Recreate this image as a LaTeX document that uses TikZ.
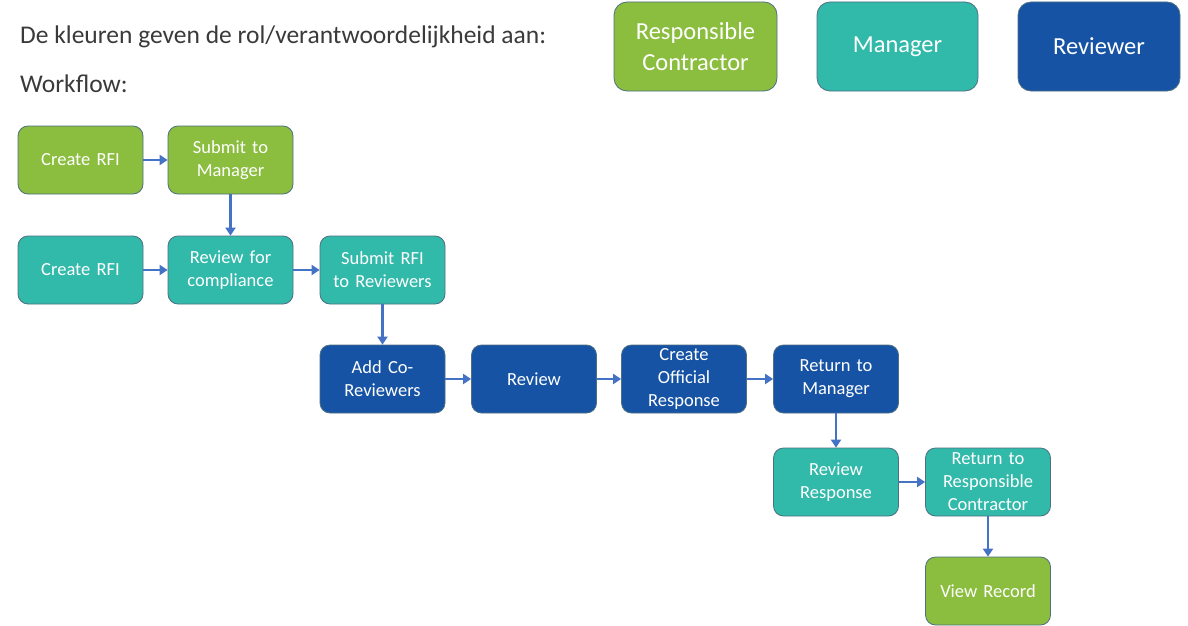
\documentclass[tikz,border=0pt]{standalone}
\usepackage{fontspec}
\setmainfont{Carlito}
\usetikzlibrary{arrows.meta}
\definecolor{rcgreen}{HTML}{8BBD3F}
\definecolor{mgteal}{HTML}{31B9AA}
\definecolor{rvblue}{HTML}{1753A4}
\definecolor{edgecol}{HTML}{4E7080}
\definecolor{arrowcol}{HTML}{4472C4}
\definecolor{txtgray}{HTML}{3A3A3A}
\tikzset{
  box/.style={rounded corners=10pt, draw=edgecol, line width=0.8pt,
    minimum width=125pt, minimum height=68pt, text width=120pt, align=center,
    inner sep=0pt, text=white, font=\fontsize{18.5}{23}\selectfont},
  legend/.style={rounded corners=13pt, draw=edgecol, line width=0.8pt,
    minimum height=89pt, text width=150pt, align=center,
    inner sep=0pt, text=white, font=\fontsize{24.5}{31}\selectfont},
  rc/.style={box, fill=rcgreen},
  mg/.style={box, fill=mgteal},
  rv/.style={box, fill=rvblue},
  flow/.style={draw=arrowcol, line width=2.2pt, -{Triangle[length=8pt,width=10pt]}},
  plain/.style={text=txtgray, anchor=west, inner sep=0pt, font=\fontsize{25.5}{30}\selectfont}
}
\begin{document}
\begin{tikzpicture}[x=1pt,y=-1pt]
\useasboundingbox[fill=white] (0,0) rectangle (1188,626);
% header
\node[plain] (hdr) at (20,37) {De kleuren geven de rol/verantwoordelijkheid aan:};
\node[plain] (wf) at (20,84) {Workflow:};
% legend
\node[legend, fill=rcgreen, minimum width=163pt] (lg1) at (695.5,46.5) {Responsible\\Contractor};
\node[legend, fill=mgteal, minimum width=161pt] (lg2) at (897.5,46.5) {Manager};
\node[legend, fill=rvblue, minimum width=162pt] (lg3) at (1099,46.5) {Reviewer};
% row 1
\node[rc] (a1) at (80.5,160) {Create RFI};
\node[rc] (a2) at (230.5,160) {Submit to\\Manager};
% row 2
\node[mg] (b1) at (80.5,270) {Create RFI};
\node[mg] (b2) at (230.5,270) {Review for\\compliance};
\node[mg] (b3) at (382.5,270) {Submit RFI\\to Reviewers};
% row 3
\node[rv] (c1) at (382.5,379) {Add Co-\\Reviewers};
\node[rv] (c2) at (534,379) {Review};
\node[rv] (c3) at (684,379) {Create\\Official\\Response};
\node[rv] (c4) at (836,379) {Return to\\Manager};
% row 4
\node[mg] (d1) at (836,482) {Review\\Response};
\node[mg] (d2) at (988,482) {Return to\\Responsible\\Contractor};
% row 5
\node[rc] (e1) at (988,591) {View Record};
% connectors
\draw[flow] (a1) -- (a2);
\draw[flow] (a2) -- (b2);
\draw[flow] (b1) -- (b2);
\draw[flow] (b2) -- (b3);
\draw[flow] (b3) -- (c1);
\draw[flow] (c1) -- (c2);
\draw[flow] (c2) -- (c3);
\draw[flow] (c3) -- (c4);
\draw[flow] (c4) -- (d1);
\draw[flow] (d1) -- (d2);
\draw[flow] (d2) -- (e1);
\end{tikzpicture}
\end{document}
